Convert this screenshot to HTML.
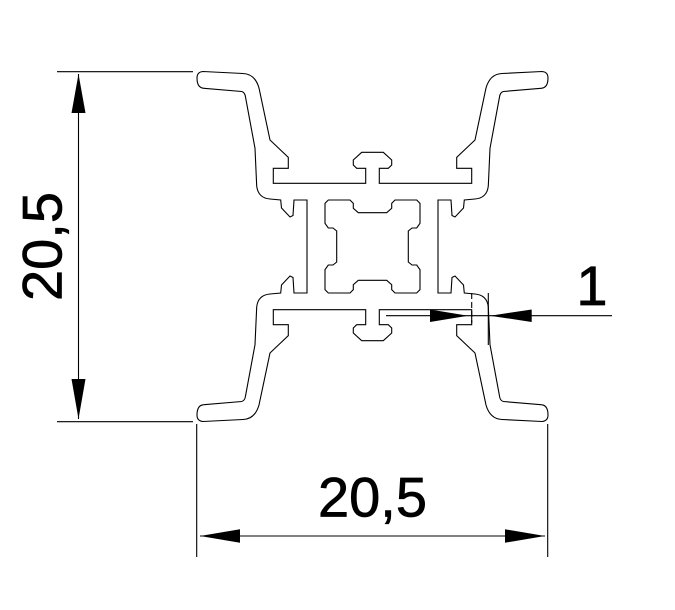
<!DOCTYPE html>
<html><head><meta charset="utf-8"><style>
html,body{margin:0;padding:0;background:#fff;}
svg{display:block;}
text{font-family:"Liberation Sans",Arial,sans-serif;fill:#000;stroke:#000;stroke-width:0.7;}
</style></head><body>
<svg width="675" height="610" viewBox="0 0 675 610" xmlns="http://www.w3.org/2000/svg">
<defs>
<g id="q" fill="none" stroke="#000" stroke-width="1.1">
<path d="M372.5,152.3 L361.7,152.3 L353.3,160 L353.3,165 L356.7,168.3 L365.7,168.3 L365.7,183.3 L273.3,183.3 L273.3,168.3 L288.3,168.3 L288.3,157.3 L270,140 L259,88 Q255,74 243,73.5 L203,71.5 Q197,72 197,78 Q197,88 204,88.3 L241.7,91.5 Q245,92.5 245.5,97 L255,148.3 L256.7,186 Q258,198 270,199 L280.7,200 L281.5,208 L290,217 L293,215.5 L294,200 L307,200 L307,246.5"/>
<path d="M372.5,212.7 L358.3,212.7 L353.3,208.3 L353.3,203.3 L350,200 L328.3,200 L325,203.3 L325,223.3 L328.3,228 L333,228 L336.7,231 L336.7,246.5"/>
</g>
</defs>
<use href="#q"/>
<use href="#q" transform="translate(745,0) scale(-1,1)"/>
<use href="#q" transform="translate(0,493) scale(1,-1)"/>
<use href="#q" transform="translate(745,493) scale(-1,-1)"/>

<g stroke="#000" stroke-width="1.1" fill="none">
<line x1="57" y1="71.7" x2="193" y2="71.7"/>
<line x1="57" y1="421.7" x2="193" y2="421.7"/>
<line x1="78.5" y1="74" x2="78.5" y2="419"/>
<line x1="196.7" y1="424" x2="196.7" y2="557"/>
<line x1="547.7" y1="424" x2="547.7" y2="557"/>
<line x1="200" y1="536" x2="545" y2="536"/>
<line x1="386" y1="315.7" x2="612" y2="315.7"/>
<line x1="471.7" y1="293" x2="471.7" y2="323" stroke-dasharray="6,3"/>
<line x1="488.3" y1="293" x2="488.3" y2="345"/>
</g>
<g fill="#000">
<polygon points="78.5,74 71.5,113 85.5,113"/>
<polygon points="78.5,419 71.5,379 85.5,379"/>
<polygon points="200,536 240,529.3 240,542.7"/>
<polygon points="545,536 505,529.3 505,542.7"/>
<polygon points="468,315.7 430,309.5 430,322"/>
<polygon points="490,315.7 531.7,309.5 531.7,322"/>
</g>
<text x="372.5" y="516.7" font-size="56" text-anchor="middle">20,5</text>
<text x="592" y="305" font-size="56" text-anchor="middle">1</text>
<text transform="translate(61.5,246.5) rotate(-90)" font-size="56" text-anchor="middle">20,5</text>
</svg>
</body></html>
